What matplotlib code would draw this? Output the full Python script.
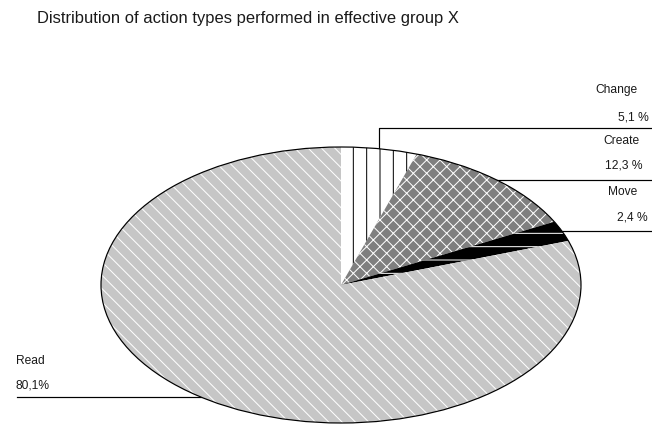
import numpy as np
import matplotlib.pyplot as plt
from matplotlib.patches import Ellipse

DPI = 80  # lower dpi so the hatch spacing comes out like the original
W, H = 652, 424


def pt(px):
    # pixel size -> points at this dpi
    return px * 72 / DPI


plt.rcParams['font.family'] = ['Liberation Sans', 'DejaVu Sans']
plt.rcParams['hatch.linewidth'] = pt(1.0)

# data
labels = ['Change', 'Create', 'Move', 'Read']
shares = [5.1, 12.3, 2.4, 80.1]
share_text = ['5,1 %', '12,3 %', '2,4 %', '80,1%']

# styles
faces = ['white', '#7f7f7f', 'black', '#c6c6c6']
hatch_colors = ['black', 'white', 'white', 'white']
hatches = ['|', 'xx', '-', '\\\\']

CX, CY, RX, RY = 341, 285, 240, 138

# label layout (pixels, left x / centre y of name and value)
label_pos = [(595, 90, 618, 117),
             (603, 141, 605, 166),
             (608, 192, 617, 217),
             (16, 361, 16, 385)]
CHANGE_LINE_Y = 128

fig = plt.figure(figsize=(W / DPI, H / DPI), dpi=DPI)
bg = fig.add_axes([0, 0, 1, 1])
bg.set_xlim(0, W)
bg.set_ylim(H, 0)
bg.axis('off')

ax = fig.add_axes([(CX - RX) / W, (H - CY - RY) / H, 2 * RX / W, 2 * RY / H])
wedges, _ = ax.pie(shares, startangle=90, counterclock=False, colors=faces,
                   wedgeprops=dict(linewidth=0))
for w, h, hc in zip(wedges, hatches, hatch_colors):
    w.set_hatch(h)
    w.set_edgecolor(hc)
    w.set_linewidth(0)
ax.add_patch(Ellipse((0, 0), 2, 2, fill=False, edgecolor='black', lw=pt(1.2),
                     clip_on=False))
ax.set_aspect('auto')
ax.set_xlim(-1, 1)
ax.set_ylim(-1, 1)
ax.axis('off')

bg.text(37, 18, 'Distribution of action types performed in effective group X',
        fontsize=pt(16.5), va='center', ha='left', color='#1a1a1a')

for i, w in enumerate(wedges):
    mid = np.deg2rad((w.theta1 + w.theta2) / 2)
    xd, yd = ax.transData.transform((np.cos(mid), np.sin(mid)))
    px, py = xd, H - yd
    nx, ny, vx, vy = label_pos[i]
    if labels[i] == 'Change':
        bg.plot([px, px, W], [py, CHANGE_LINE_Y, CHANGE_LINE_Y], color='black', lw=pt(1.2))
    elif px > CX:
        bg.plot([px, W], [py, py], color='black', lw=pt(1.2))
    else:
        bg.plot([px, 17], [py, py], color='black', lw=pt(1.2))
    bg.text(nx, ny, labels[i], fontsize=pt(12), va='center', ha='left', color='#1a1a1a')
    bg.text(vx, vy, share_text[i], fontsize=pt(12), va='center', ha='left', color='#1a1a1a')

fig.savefig('out.png', dpi=DPI)
